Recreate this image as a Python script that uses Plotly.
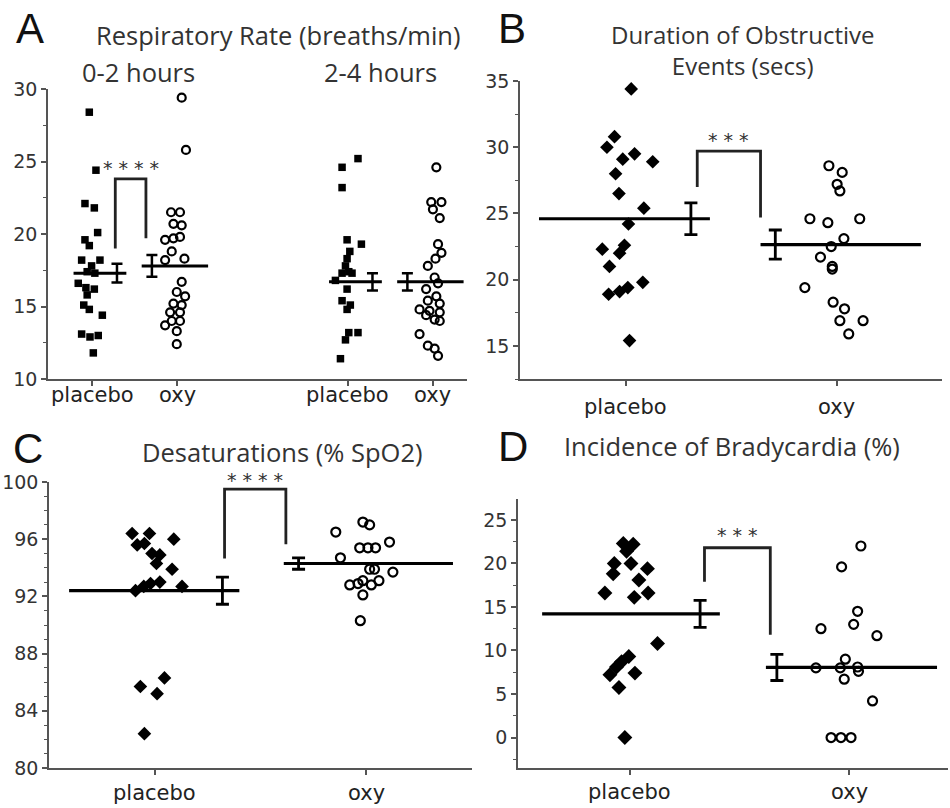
import plotly.graph_objects as go

W, H = 950, 808

# ---------------- DATA ----------------
# Panel A: respiratory rate (breaths/min)
a_ticks = ["placebo", "oxy", "placebo", "oxy"]
a_pos = [1, 2, 4, 5]

a_plac02 = [28.4, 24.4, 22.1, 21.8, 20.1, 19.6, 19.2, 18.2, 18.2, 17.8, 17.4, 17.3, 16.6, 16.3, 16.2,
            15.8, 15.1, 14.8, 14.4, 13.1, 12.9, 13.0, 11.8]
a_plac02_jit = [-0.035, 0.043, -0.086, 0.024, 0.063, -0.086, -0.035, -0.125, 0.09, -0.008, -0.06, 0.03,
                -0.165, -0.075, 0.024, -0.06, -0.1, -0.035, 0.118, -0.125, -0.027, 0.07, 0.012]
a_oxy02 = [29.4, 25.8, 21.5, 21.5, 20.7, 20.6, 19.6, 19.7, 19.8, 18.8, 18.3, 18.2, 16.7, 16.0, 15.7,
           15.2, 15.1, 14.6, 14.6, 14.0, 14.0, 13.7, 13.3, 12.4]
a_oxy02_jit = [0.05, 0.10, -0.075, 0.03, -0.047, 0.05, -0.145, -0.047, 0.03, -0.067, 0.082, -0.145, 0.05,
               -0.008, 0.09, -0.047, 0.05, -0.086, 0.03, -0.067, 0.03, -0.145, -0.008, -0.008]
a_plac24 = [24.6, 25.2, 23.2, 19.6, 19.3, 18.8, 18.3, 17.8, 17.4, 17.3, 16.8, 17.3, 16.2, 15.4, 15.1,
            14.8, 13.2, 13.2, 12.7, 11.4]
a_plac24_jit = [-0.067, 0.12, -0.067, -0.008, 0.16, 0.024, -0.008, -0.027, 0.012, -0.067, -0.145, 0.05,
                -0.008, -0.067, 0.03, -0.008, 0.012, 0.12, -0.027, -0.086]
a_oxy24 = [24.6, 22.2, 22.2, 21.7, 21.1, 19.3, 18.7, 18.3, 17.8, 17.0, 16.6, 16.2, 15.7, 15.4, 15.2,
           14.8, 14.7, 14.6, 14.4, 14.1, 14.0, 13.1, 12.3, 12.1, 11.6]
a_oxy24_jit = [0.04, -0.02, 0.1, 0.0, 0.08, 0.06, 0.1, 0.03, -0.06, 0.02, 0.06, -0.08, 0.04, -0.06, 0.08,
               -0.157, -0.04, 0.08, -0.08, 0.02, 0.08, -0.157, -0.06, 0.02, 0.06]
a_means = [17.3, 17.8, 16.7, 16.7]
a_sems = [0.65, 0.75, 0.6, 0.6]

# Panel B: duration of obstructive events (secs)
b_ticks = ["placebo", "oxy"]
b_plac = [34.4, 30.8, 30.0, 29.5, 29.1, 28.9, 28.0, 26.5, 25.4, 24.2, 22.6, 22.3, 22.0, 21.0, 19.8,
          19.4, 19.1, 18.9, 15.4]
b_plac_jit = [0.027, -0.052, -0.088, 0.043, -0.013, 0.129, -0.047, -0.031, 0.087, 0.014, -0.005, -0.11,
              -0.028, -0.076, 0.082, 0.011, -0.028, -0.08, 0.019]
b_oxy = [28.6, 28.1, 27.2, 26.7, 24.6, 24.3, 24.6, 23.1, 22.5, 21.7, 21.0, 20.8, 19.4, 18.3, 17.8,
         16.9, 16.9, 15.9]
b_oxy_jit = [-0.036, 0.027, 0.003, 0.016, -0.126, -0.041, 0.11, 0.035, -0.025, -0.076, -0.02, -0.02,
             -0.15, -0.016, 0.038, 0.016, 0.126, 0.058]
b_means = [24.6, 22.65]
b_sems = [1.2, 1.1]

# Panel C: desaturations (% SpO2)
c_ticks = ["placebo", "oxy"]
c_plac = [96.4, 96.4, 96.0, 95.6, 95.7, 95.0, 94.9, 94.3, 93.9, 93.0, 92.9, 92.7, 92.4, 92.7, 86.3,
          85.7, 85.2, 82.4]
c_plac_jit = [-0.107, -0.025, 0.09, -0.083, -0.049, -0.013, 0.024, 0.008, 0.082, 0.024, -0.02, -0.052,
              -0.091, 0.129, 0.046, -0.068, 0.011, -0.049]
c_oxy = [97.2, 97.0, 96.5, 95.8, 95.4, 95.4, 95.4, 94.7, 93.9, 93.9, 93.7, 93.1, 93.1, 92.8, 92.9,
         92.8, 92.1, 90.3]
c_oxy_jit = [-0.016, 0.016, -0.144, 0.11, -0.031, 0.008, 0.044, -0.122, 0.016, 0.039, 0.126, -0.016,
             0.06, -0.078, -0.039, 0.024, -0.016, -0.028]
c_means = [92.4, 94.3]
c_sems = [0.95, 0.4]

# Panel D: incidence of bradycardia (%)
d_ticks = ["placebo", "oxy"]
d_plac = [22.3, 22.2, 21.4, 20.0, 20.0, 19.4, 18.8, 18.1, 16.6, 16.1, 16.6, 10.8, 9.3, 8.7, 8.1,
          7.2, 7.4, 5.75, 0.0]
d_plac_jit = [-0.03, 0.015, -0.015, -0.071, 0.005, 0.08, -0.076, 0.041, -0.114, 0.02, 0.083, 0.126,
              -0.005, -0.038, -0.061, -0.091, 0.023, -0.05, -0.023]
d_oxy = [22.0, 19.6, 14.5, 13.0, 12.5, 11.7, 9.0, 8.0, 8.0, 8.1, 7.6, 6.7, 4.2, 0.0, 0.0, 0.0]
d_oxy_jit = [0.053, -0.035, 0.038, 0.02, -0.129, 0.126, -0.018, -0.152, -0.041, 0.038, 0.042, -0.023,
             0.106, -0.083, -0.038, 0.008]
d_means = [14.2, 8.05]
d_sems = [1.55, 1.5]

# significance labels
sig_a = "* * * *"
sig_b = "* * *"
sig_c = "* * * *"
sig_d = "* * *"

# ---------------- FIGURE ----------------
fig = go.Figure()

TICKFONT = dict(family="DejaVu Sans", size=19, color="#333")
XTICKFONT = dict(family="DejaVu Sans", size=21, color="#222")
TITLEFONT = dict(family="Open Sans", size=25.5, color="#333")
LETTERFONT = dict(family="Liberation Sans", size=42, color="#111")
STARFONT = dict(family="DejaVu Sans", size=19, color="#333")
AXC = "#555"

RANGES = {1: [10, 30], 2: [12.5, 35], 3: [80, 100], 4: [-3.5, 27.4]}


def ax_names(i):
    return ("x" if i == 1 else f"x{i}"), ("y" if i == 1 else f"y{i}")


def add_points(i, pos, vals, jit, kind):
    xa, ya = ax_names(i)
    xs = [pos + j for j in jit]
    if kind == "square":
        mk = dict(symbol="square", size=7.5, color="black", line=dict(width=0))
    elif kind == "diamond":
        mk = dict(symbol="diamond", size=10.5 if i != 4 else 11.5, color="black", line=dict(width=0))
    else:
        mk = dict(symbol="circle-open", size=8 if i == 1 else 9, color="black",
                  line=dict(width=2.2, color="black"))
    fig.add_trace(go.Scatter(x=xs, y=vals, mode="markers", marker=mk, xaxis=xa, yaxis=ya,
                             showlegend=False, hoverinfo="y"))


def add_mean(i, pos, mean, sem, l0, l1, ex, lw=3.2, capw=6.5, th=2.8):
    xa, ya = ax_names(i)
    fig.add_trace(go.Scatter(x=[pos + l0, pos + l1], y=[mean, mean], mode="lines",
                             line=dict(color="black", width=lw), xaxis=xa, yaxis=ya,
                             showlegend=False, hoverinfo="skip"))
    fig.add_trace(go.Scatter(x=[pos + ex], y=[mean], mode="markers",
                             marker=dict(size=1, color="rgba(0,0,0,0)"),
                             error_y=dict(type="data", array=[sem], visible=True, width=capw,
                                          thickness=th, color="black"),
                             xaxis=xa, yaxis=ya, showlegend=False, hoverinfo="skip"))


def add_bracket(i, xl, xr, yl, ytop, yr, ystar, text):
    xa, ya = ax_names(i)
    fig.add_trace(go.Scatter(x=[xl, xl, xr, xr], y=[yl, ytop, ytop, yr], mode="lines",
                             line=dict(color="#222", width=2.8), xaxis=xa, yaxis=ya,
                             showlegend=False, hoverinfo="skip", cliponaxis=False))
    r0, r1 = RANGES[i]
    fig.add_annotation(x=(xl + xr) / 2, y=(ystar - r0) / (r1 - r0), xref=xa, yref=ya + " domain",
                       text=text, showarrow=False, xanchor="center", yanchor="middle",
                       yshift=-5, font=STARFONT)


def add_xlabels(i, vals, labels, py):
    xa, _ = ax_names(i)
    for v, t in zip(vals, labels):
        fig.add_annotation(x=v, y=1 - py / H, xref=xa, yref="paper", text=t, showarrow=False,
                           xanchor="center", yanchor="middle", font=XTICKFONT)


# Panel A
add_points(1, a_pos[0], a_plac02, a_plac02_jit, "square")
add_points(1, a_pos[1], a_oxy02, a_oxy02_jit, "circle")
add_points(1, a_pos[2], a_plac24, a_plac24_jit, "square")
add_points(1, a_pos[3], a_oxy24, a_oxy24_jit, "circle")
for k, (p, m, s) in enumerate(zip(a_pos, a_means, a_sems)):
    if k % 2 == 0:
        add_mean(1, p, m, s, -0.22, 0.4, 0.29, lw=3, capw=5.5, th=2.5)
    else:
        add_mean(1, p, m, s, -0.42, 0.36, -0.3, lw=3, capw=5.5, th=2.5)
add_bracket(1, 1.27, 1.63, 19.0, 23.8, 19.7, 24.9, sig_a)
add_xlabels(1, a_pos, a_ticks, 395)

# Panel B
add_points(2, 1, b_plac, b_plac_jit, "diamond")
add_points(2, 2, b_oxy, b_oxy_jit, "circle")
add_mean(2, 1, b_means[0], b_sems[0], -0.41, 0.40, 0.31)
add_mean(2, 2, b_means[1], b_sems[1], -0.36, 0.40, -0.29)
add_bracket(2, 1.34, 1.64, 27.0, 29.7, 24.7, 30.9, sig_b)
add_xlabels(2, [1, 2], b_ticks, 407)

# Panel C
add_points(3, 1, c_plac, c_plac_jit, "diamond")
add_points(3, 2, c_oxy, c_oxy_jit, "circle")
add_mean(3, 1, c_means[0], c_sems[0], -0.405, 0.40, 0.32)
add_mean(3, 2, c_means[1], c_sems[1], -0.39, 0.41, -0.32)
add_bracket(3, 1.33, 1.62, 94.65, 99.5, 95.65, 100.5, sig_c)
add_xlabels(3, [1, 2], c_ticks, 793)

# Panel D
add_points(4, 1, d_plac, d_plac_jit, "diamond")
add_points(4, 2, d_oxy, d_oxy_jit, "circle")
add_mean(4, 1, d_means[0], d_sems[0], -0.40, 0.41, 0.32)
add_mean(4, 2, d_means[1], d_sems[1], -0.38, 0.40, -0.33)
add_bracket(4, 1.34, 1.64, 17.9, 21.8, 11.8, 23.85, sig_d)
add_xlabels(4, [1, 2], d_ticks, 792)


def xd(p0, p1):
    return [p0 / W, p1 / W]


def yd(top, bottom):
    return [1 - bottom / H, 1 - top / H]


common_axis = dict(showline=True, linecolor=AXC, linewidth=1.5, ticks="outside", tickcolor=AXC,
                   tickwidth=1.5, showgrid=False, zeroline=False, fixedrange=True, automargin=False)
minor25 = dict(dtick=2.5, tick0=0, ticks="outside", ticklen=3, tickcolor=AXC, tickwidth=1.2, showgrid=False)

fig.update_layout(
    template="none",
    width=W, height=H, margin=dict(l=0, r=0, t=0, b=0, pad=0, autoexpand=False),
    paper_bgcolor="white", plot_bgcolor="white", showlegend=False,
    # A
    xaxis=dict(common_axis, domain=xd(48, 467), range=[0.48, 5.4], tickvals=a_pos,
               showticklabels=False, ticklen=5, anchor="y"),
    yaxis=dict(common_axis, domain=yd(89, 379), range=RANGES[1], tickvals=[10, 15, 20, 25, 30],
               ticklen=5, tickfont=TICKFONT, anchor="x", minor=minor25),
    # B
    xaxis2=dict(common_axis, domain=xd(520, 942), range=[0.5, 2.5], tickvals=[1, 2],
                showticklabels=False, ticklen=5, anchor="y2"),
    yaxis2=dict(common_axis, domain=yd(81, 379), range=RANGES[2], tickvals=[15, 20, 25, 30, 35],
                ticklen=5, tickfont=TICKFONT, anchor="x2", minor=minor25),
    # C
    xaxis3=dict(common_axis, domain=xd(49, 472), range=[0.5, 2.5], tickvals=[1, 2],
                showticklabels=False, ticklen=5, anchor="y3"),
    yaxis3=dict(common_axis, domain=yd(482, 768), range=RANGES[3], tickvals=[80, 84, 88, 92, 96, 100],
                ticklen=5, tickfont=TICKFONT, anchor="x3",
                minor=dict(dtick=1, tick0=0, ticks="outside", ticklen=3, tickcolor=AXC, tickwidth=1.2,
                           showgrid=False)),
    # D
    xaxis4=dict(common_axis, domain=xd(518, 948), range=[0.49, 2.45], tickvals=[1, 2],
                showticklabels=False, ticklen=5, anchor="y4"),
    yaxis4=dict(common_axis, domain=yd(499, 768), range=RANGES[4], tickvals=[0, 5, 10, 15, 20, 25],
                ticklen=5, tickfont=TICKFONT, anchor="x4", minor=minor25),
)

texts = [
    ("A", 30, 28, LETTERFONT),
    ("B", 512, 28, LETTERFONT),
    ("C", 28, 448, LETTERFONT),
    ("D", 513, 446, LETTERFONT),
    ("Respiratory Rate (breaths/min)", 278, 35, TITLEFONT),
    ("0-2 hours", 138, 72, TITLEFONT),
    ("2-4 hours", 380, 72, TITLEFONT),
    ("Duration of Obstructive<br>Events (secs)", 742, 50, dict(TITLEFONT, size=24)),
    ("Desaturations (% SpO2)", 282, 452, TITLEFONT),
    ("Incidence of Bradycardia (%)", 732, 446, TITLEFONT),
]
for t, px, py, f in texts:
    fig.add_annotation(text=t, x=px / W, y=1 - py / H, xref="paper", yref="paper",
                       showarrow=False, xanchor="center", yanchor="middle", font=f)

fig.write_html("out.html", config={"displayModeBar": False},
               post_script="document.body.style.margin='0';")
